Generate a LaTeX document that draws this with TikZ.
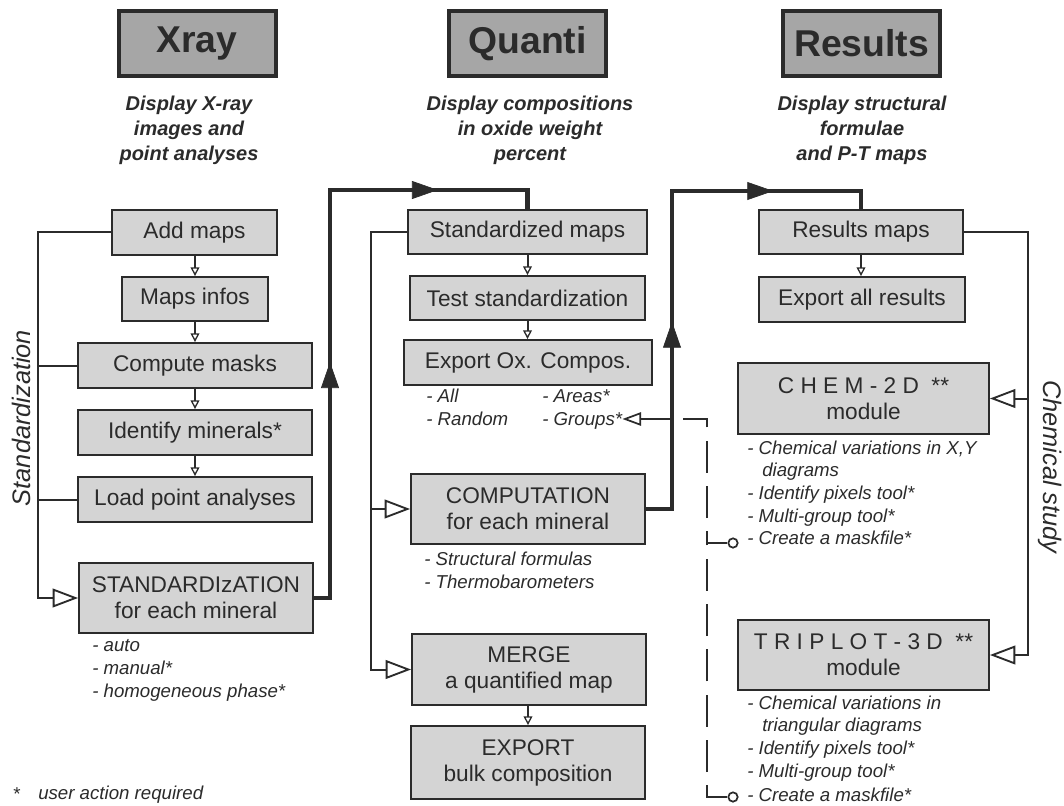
\documentclass[tikz,border=0pt]{standalone}
\usepackage{fontspec}
\setmainfont{Liberation Sans}
\usetikzlibrary{arrows.meta,decorations.markings}
\definecolor{ink}{HTML}{2B2B2B}
\definecolor{boxfill}{HTML}{D4D4D4}
\definecolor{titlefill}{HTML}{A6A6A6}
\tikzset{bigtip/.tip={Triangle[length=19.5pt, width=13.5pt, line width=0.5pt]}}
\begin{document}
\begin{tikzpicture}[x=0.75pt,y=-0.75pt,
  every node/.style={text=ink},
  box/.style 2 args={draw=ink, fill=boxfill, line width=1.4pt, minimum width=#1*0.75pt, minimum height=#2*0.75pt, inner sep=0pt, font=\fontsize{17}{19.5}\selectfont, align=center},
  titlebox/.style={draw=ink, fill=titlefill, line width=3pt, minimum width=#1*0.75pt, minimum height=48.75pt, inner sep=0pt, font=\fontsize{28}{32}\selectfont\bfseries},
  sub/.style={font=\fontsize{15}{18.75}\selectfont\bfseries\itshape, align=center, inner sep=0pt},
  note/.style={font=\fontsize{14}{17}\selectfont\itshape, anchor=west, inner sep=0pt, text height=10pt, text depth=3pt},
  side/.style={font=\fontsize{19}{22}\selectfont\itshape, inner sep=0pt},
  conn/.style={draw=ink, line width=1.5pt},
  smallarr/.style={conn, -{Triangle[open, length=6.5pt, width=6.5pt, line width=1pt]}},
  bigarr/.style={conn, -{Triangle[open, length=19pt, width=14pt, line width=1.4pt]}},
  thickline/.style={draw=ink, line width=3.6pt, line join=miter},
  dashline/.style={conn, dash pattern=on 24pt off 10pt},
  ring/.style={circle, draw=ink, line width=1.3pt, fill=white, minimum size=7pt, inner sep=0pt}
]
\useasboundingbox (0,0) rectangle (1064,806);

% titles
\node[titlebox=157] (xray) at (197,43.5) {Xray};
\node[titlebox=157] (quanti) at (527.5,43.5) {Quanti};
\node[titlebox=157] (results) at (861.5,43.5) {Results};
\node[sub] (subx) at (189,130) {Display X-ray\\ images and\\point analyses};
\node[sub] (subq) at (530,130) {Display compositions\\in oxide weight\\percent};
\node[sub] (subr) at (862,130) {Display structural\\formulae\\and P-T maps};

% left column
\node[box={165}{45}] (addmaps) at (194.5,232.5) {Add maps};
\node[box={146}{44}] (infos) at (195,299) {Maps infos};
\node[box={234}{45}] (masks) at (195,365.5) {Compute masks};
\node[box={234}{45}] (ident) at (195,432.5) {Identify minerals*};
\node[box={234}{45}] (load) at (195,499.5) {Load point analyses};
\node[box={234}{70}] (stdz) at (196,598) {STANDARDIzATION\\for each mineral};
\node[note] (na1) at (92,647) {- auto};
\node[note] (na2) at (92,670) {- manual*};
\node[note] (na3) at (92,693) {- homogeneous phase*};

% middle column
\node[box={239}{44}] (stdmaps) at (527.5,232) {Standardized maps};
\node[box={235}{44}] (test) at (527.5,298) {Test standardization};
\node[box={248}{45}] (export) at (528,362.5) {Export Ox. Compos.};
\node[note] (nb1) at (426,398) {- All};
\node[note] (nb2) at (426,421) {- Random};
\node[note] (nb3) at (542,398) {- Areas*};
\node[note] (groups) at (542,421) {- Groups*};
\node[box={234}{70}] (comp) at (528,509) {COMPUTATION\\for each mineral};
\node[note] (nc1) at (424,561) {- Structural formulas};
\node[note] (nc2) at (424,584) {- Thermobarometers};
\node[box={234}{71}] (merge) at (529,669.5) {MERGE\\a quantified map};
\node[box={234}{73}] (bulk) at (528,762.5) {EXPORT\\bulk composition};

% right column
\node[box={204}{44}] (resmaps) at (861,232) {Results maps};
\node[box={206}{45}] (expall) at (862,299.5) {Export all results};
\node[box={251}{71}] (chem) at (863.5,398.5) {C H E M - 2 D ~**\\module};
\node[note] (nd1) at (747,450) {- Chemical variations in X,Y};
\node[note] (nd2) at (762,472) {diagrams};
\node[note] (nd3) at (747,495) {- Identify pixels tool*};
\node[note] (nd4) at (747,518) {- Multi-group tool*};
\node[note] (nd5) at (747,540) {- Create a maskfile*};
\node[box={251}{70}] (triplot) at (863.5,655) {T R I P L O T - 3 D ~**\\module};
\node[note] (ne1) at (747,705) {- Chemical variations in};
\node[note] (ne2) at (762,727) {triangular diagrams};
\node[note] (ne3) at (747,750) {- Identify pixels tool*};
\node[note] (ne4) at (747,773) {- Multi-group tool*};
\node[note] (ne5) at (747,797) {- Create a maskfile*};

% side labels and footnote
\node[side, rotate=90] (stdlabel) at (21,418) {Standardization};
\node[side, rotate=-90] (chemlabel) at (1050,467) {Chemical study};
\node[font=\fontsize{14}{17}\selectfont, inner sep=0pt] (star) at (17,794) {*};
\node[note] (foot) at (38,795) {user action required};

% small arrows between boxes
\draw[smallarr] (addmaps.south -| infos.north) -- (infos.north);
\draw[smallarr] (infos.south) -- (infos.south |- masks.north);
\draw[smallarr] (masks.south) -- (ident.north);
\draw[smallarr] (ident.south) -- (load.north);
\draw[smallarr] (stdmaps.south) -- (test.north);
\draw[smallarr] (test.south) -- (test.south |- export.north);
\draw[smallarr] (merge.south -| bulk.north) -- (bulk.north);
\draw[smallarr] (resmaps.south) -- (resmaps.south |- expall.north);

% brackets
\coordinate (lb) at (38,598);
\draw[bigarr] (addmaps.west) -| (lb) -- (stdz.west);
\draw[conn] (masks.west) -- (masks.west -| lb);
\draw[conn] (load.west) -- (load.west -| lb);

\coordinate (mb) at (371,669.5);
\draw[bigarr] (stdmaps.west) -| (mb) -- (merge.west);
\draw[bigarr] (comp.west -| mb) -- (comp.west);

\coordinate (rb) at (1028,655);
\draw[bigarr] (resmaps.east) -| (rb) -- (triplot.east);
\draw[bigarr] (chem.east -| rb) -- (chem.east);

% thick flow arrows
\coordinate (t1) at (330,190);
\draw[thickline, postaction={decorate}, decoration={markings,
   mark=at position 189pt with {\arrow{bigtip}},
   mark=at position 399pt with {\arrow{bigtip}}}]
  (stdz.east) -| (t1) -| (stdmaps.north);
\coordinate (t2) at (672,191);
\draw[thickline, postaction={decorate}, decoration={markings,
   mark=at position 160pt with {\arrow{bigtip}},
   mark=at position 334pt with {\arrow{bigtip}}}]
  (comp.east) -| (t2) -| (resmaps.north);

% dashed mask-file links
\node[ring] (m1) at (733,543) {};
\node[ring] (m2) at (733,797) {};
\coordinate (dtop) at (707,419);
\coordinate (dmid) at (707,543);
\draw[dashline, -{Triangle[open, length=14pt, width=10pt, line width=1.3pt]}] (m1.west) -| (dtop) -- (dtop -| groups.east);
\draw[dashline] (m2.west) -| (dmid);
\end{tikzpicture}
\end{document}
